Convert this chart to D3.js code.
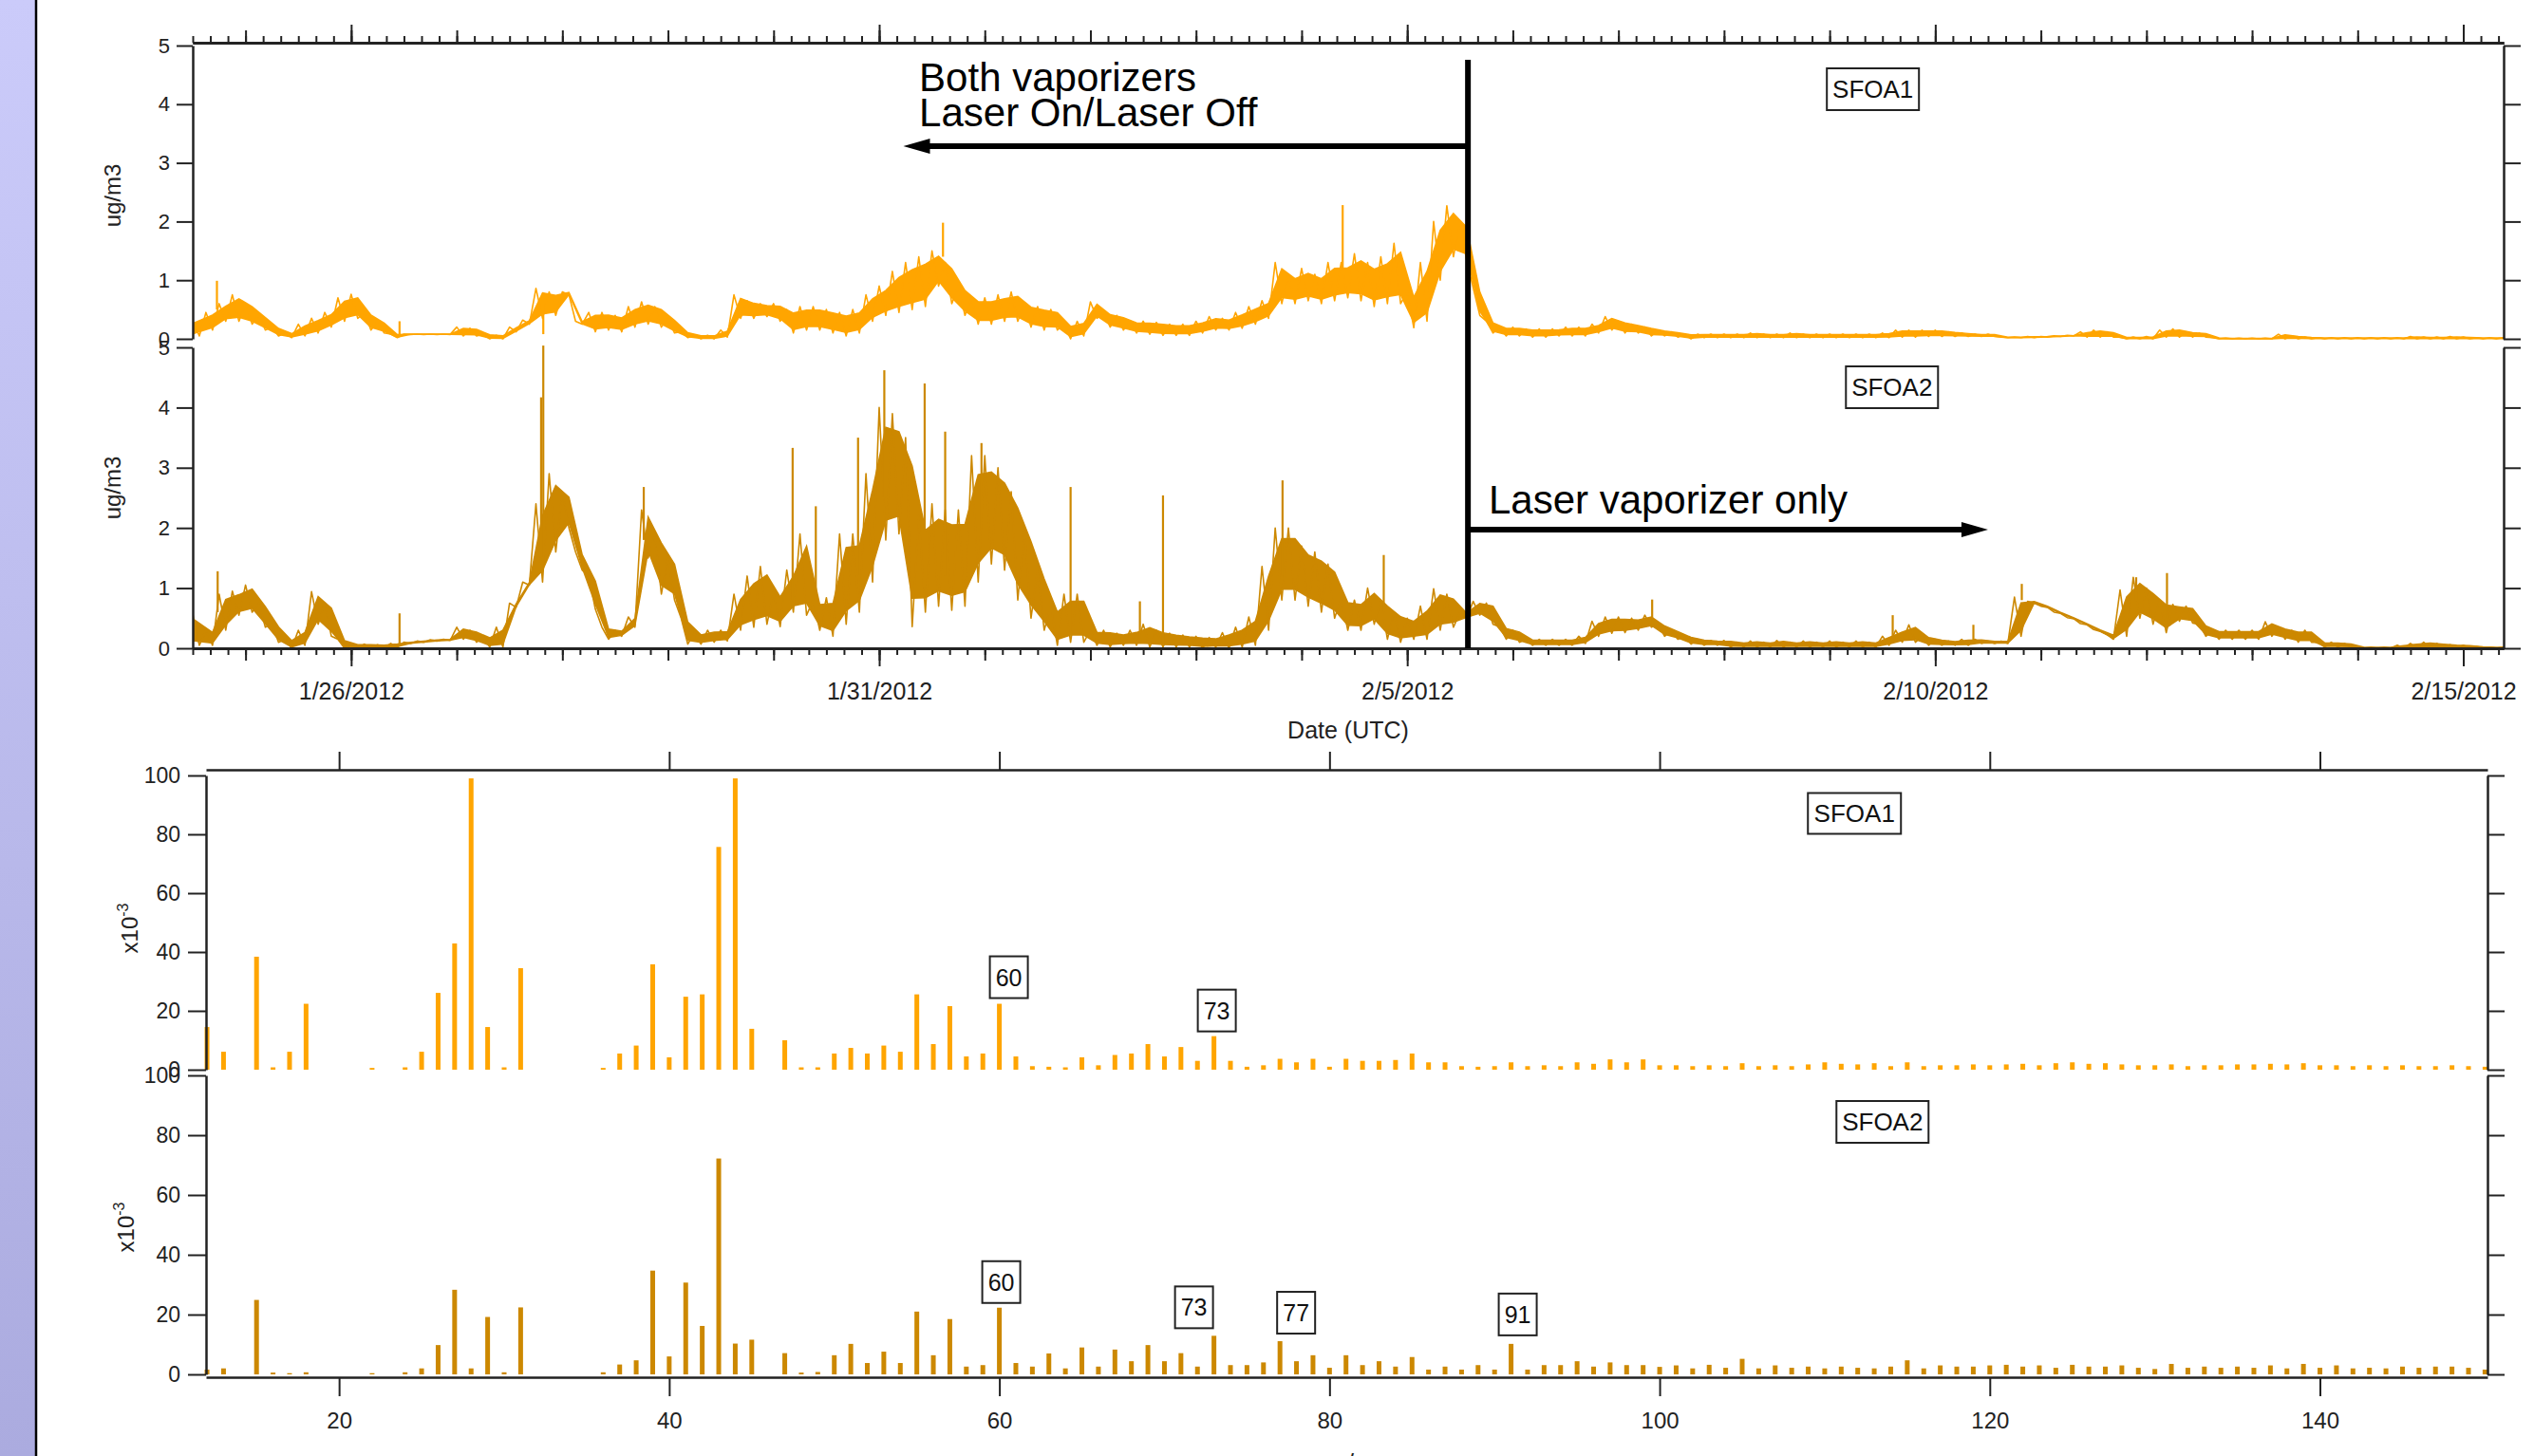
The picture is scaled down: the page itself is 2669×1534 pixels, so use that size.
<!DOCTYPE html>
<html>
<head>
<meta charset="utf-8">
<script src="https://cdn.jsdelivr.net/npm/d3@7"></script>
<style>
body { margin: 0; background: #fff; }
svg { display: block; font-family: "Liberation Sans", Arial, sans-serif; }
</style>
</head>
<body>
<div id="chart"></div>
<script>
// time series: min / max of the noise band in each 3-hour bin, from 1/24/2012 12:00
var binStart = new Date(2012, 0, 24, 12, 0);

var sfoa1Lo = [
    0.05,0.15,0.30,0.30,
    0.25,0.15,0.05,0.02,0.05,0.10,0.20,0.30,
    0.35,0.15,0.10,0.02,0.075,0.075,0.075,0.075,
    0.05,0.05,0.00,0.00,0.12,0.25,0.35,0.40,
    0.75,0.25,0.12,0.15,0.12,0.20,0.25,0.20,
    0.10,0.02,0.00,0.00,0.03,0.35,0.35,0.38,
    0.30,0.10,0.15,0.15,0.10,0.05,0.10,0.30,
    0.40,0.45,0.50,0.55,0.90,0.60,0.40,0.25,
    0.25,0.30,0.30,0.20,0.15,0.15,0.00,0.05,
    0.35,0.20,0.15,0.10,0.08,0.06,0.06,0.06,
    0.10,0.15,0.15,0.18,0.25,0.35,0.60,0.60,
    0.65,0.60,0.65,0.70,0.65,0.55,0.60,0.60,
    0.19,0.30,1.00,1.40,1.35,0.40,0.10,0.05,
    0.05,0.03,0.03,0.05,0.05,0.05,0.10,0.15,
    0.10,0.10,0.05,0.05,0.03,0.00,0.02,0.02,
    0.02,0.02,0.02,0.02,0.02,0.02,0.02,0.02,
    0.02,0.02,0.02,0.02,0.02,0.03,0.03,0.04,
    0.04,0.04,0.04,0.04,0.04,0.02,0.02,0.02,
    0.03,0.04,0.05,0.03,0.03,0.03,0.00,0.00,
    0.00,0.03,0.03,0.03,0.03,0.00,0.00,0.00,
    0.00,0.00,0.00,0.00,0.00,0.00,0.00,0.00,
    0.00,0.00,0.00,0.00,0.00,0.00,0.00,0.00,
    0.00,0.00,0.00,0.00
];
var sfoa1Hi = [
    0.30,0.45,0.60,0.75,
    0.60,0.40,0.20,0.10,0.25,0.35,0.45,0.70,
    0.76,0.45,0.30,0.08,0.08,0.08,0.08,0.08,
    0.20,0.18,0.08,0.06,0.20,0.32,0.86,0.80,
    0.80,0.30,0.45,0.45,0.40,0.55,0.63,0.55,
    0.35,0.12,0.06,0.06,0.15,0.75,0.65,0.60,
    0.60,0.50,0.55,0.55,0.50,0.45,0.50,0.75,
    0.90,1.15,1.30,1.40,1.50,1.30,0.90,0.70,
    0.70,0.75,0.80,0.60,0.55,0.50,0.25,0.30,
    0.63,0.45,0.40,0.30,0.30,0.28,0.25,0.25,
    0.30,0.38,0.35,0.45,0.55,0.65,1.30,1.10,
    1.20,1.10,1.30,1.30,1.45,1.30,1.40,1.63,
    0.80,1.30,2.00,2.27,2.00,0.87,0.30,0.20,
    0.20,0.17,0.17,0.17,0.20,0.20,0.25,0.38,
    0.30,0.25,0.20,0.15,0.12,0.08,0.08,0.08,
    0.08,0.08,0.10,0.08,0.08,0.10,0.08,0.08,
    0.08,0.08,0.08,0.08,0.10,0.15,0.15,0.15,
    0.15,0.12,0.10,0.08,0.08,0.03,0.03,0.04,
    0.04,0.05,0.06,0.12,0.15,0.12,0.03,0.03,
    0.04,0.15,0.17,0.12,0.10,0.02,0.01,0.01,
    0.01,0.01,0.08,0.05,0.03,0.02,0.02,0.02,
    0.02,0.02,0.02,0.02,0.04,0.03,0.03,0.04,
    0.03,0.02,0.02,0.02
];
// single spikes: [time, from, to]
var sfoa1Spikes = [
    [new Date(2012, 0, 24, 17, 30), 0.50, 0.99],
    [new Date(2012, 0, 26, 11, 0), 0.05, 0.30],
    [new Date(2012, 0, 27, 19, 40), 0.60, 0.08],
    [new Date(2012, 0, 31, 14, 30), 1.40, 1.98],
    [new Date(2012, 1, 4, 9, 20), 1.20, 2.28]
];

var sfoa2Lo = [
    0.05,0.05,0.30,0.55,
    0.60,0.35,0.10,0.00,0.05,0.40,0.20,0.00,
    0.00,0.00,0.00,0.02,0.08,0.10,0.12,0.13,
    0.15,0.10,0.02,0.02,0.68,1.05,1.10,1.60,
    2.00,1.30,0.65,0.15,0.20,0.35,1.50,0.90,
    0.80,0.07,0.07,0.10,0.12,0.30,0.35,0.40,
    0.36,0.60,0.55,0.30,0.20,0.40,0.60,1.10,
    1.80,1.90,0.36,0.60,0.70,0.63,0.70,1.10,
    1.40,1.30,0.80,0.50,0.30,0.05,0.10,0.10,
    0.05,0.02,0.05,0.05,0.02,0.02,0.02,0.02,
    0.00,0.02,0.00,0.02,0.05,0.30,0.80,0.80,
    0.70,0.60,0.50,0.30,0.30,0.40,0.15,0.10,
    0.15,0.15,0.30,0.35,0.50,0.55,0.40,0.15,
    0.10,0.05,0.05,0.05,0.05,0.08,0.20,0.25,
    0.26,0.30,0.35,0.20,0.15,0.07,0.05,0.05,
    0.02,0.02,0.02,0.02,0.02,0.02,0.02,0.02,
    0.02,0.02,0.02,0.02,0.05,0.10,0.10,0.05,
    0.05,0.05,0.05,0.08,0.08,0.08,0.20,0.75,
    0.68,0.58,0.49,0.39,0.28,0.15,0.20,0.50,
    0.40,0.26,0.45,0.42,0.20,0.15,0.15,0.15,
    0.15,0.20,0.15,0.10,0.10,0.02,0.02,0.02,
    0.00,0.00,0.00,0.00,0.00,0.00,0.00,0.00,
    0.00,0.00,0.00,0.00
];
var sfoa2Hi = [
    0.57,0.30,0.90,0.95,
    1.05,0.75,0.40,0.15,0.30,0.94,0.75,0.15,
    0.07,0.07,0.06,0.08,0.10,0.12,0.14,0.15,
    0.35,0.30,0.20,0.35,0.75,1.10,2.40,2.90,
    2.60,1.60,1.20,0.35,0.30,0.52,2.30,1.90,
    1.50,0.50,0.25,0.30,0.30,0.90,1.20,1.36,
    0.94,1.30,1.90,0.80,0.84,1.90,1.90,2.90,
    4.00,3.90,3.50,2.20,2.40,2.30,2.30,3.20,
    3.20,3.00,2.60,2.00,1.30,0.70,0.90,0.90,
    0.30,0.30,0.25,0.30,0.40,0.30,0.25,0.22,
    0.20,0.18,0.26,0.35,0.52,1.36,2.00,2.00,
    1.70,1.60,1.40,0.84,0.80,1.00,0.80,0.60,
    0.50,0.70,0.99,0.90,0.60,0.78,0.75,0.36,
    0.30,0.15,0.15,0.15,0.15,0.20,0.45,0.52,
    0.52,0.50,0.55,0.40,0.30,0.20,0.15,0.13,
    0.13,0.10,0.12,0.10,0.13,0.10,0.12,0.10,
    0.12,0.10,0.12,0.10,0.20,0.30,0.39,0.20,
    0.15,0.12,0.15,0.15,0.12,0.12,0.85,0.78,
    0.70,0.60,0.51,0.41,0.31,0.23,0.97,1.18,
    1.00,0.80,0.73,0.70,0.40,0.30,0.30,0.30,
    0.30,0.44,0.35,0.30,0.30,0.10,0.10,0.08,
    0.02,0.02,0.02,0.05,0.08,0.10,0.08,0.06,
    0.05,0.03,0.02,0.02
];
var sfoa2Spikes = [
    [new Date(2012, 0, 24, 17, 40), 0.60, 1.28],
    [new Date(2012, 0, 26, 11, 0), 0.05, 0.58],
    [new Date(2012, 0, 27, 19, 10), 1.50, 4.17],
    [new Date(2012, 0, 27, 19, 40), 1.50, 5.03],
    [new Date(2012, 0, 28, 18, 30), 1.80, 2.68],
    [new Date(2012, 0, 30, 4, 20), 0.80, 3.33],
    [new Date(2012, 0, 30, 9, 36), 0.60, 2.36],
    [new Date(2012, 0, 30, 19, 12), 1.20, 3.50],
    [new Date(2012, 0, 31, 1, 10), 2.50, 4.62],
    [new Date(2012, 0, 31, 10, 20), 1.00, 4.40],
    [new Date(2012, 0, 31, 15, 0), 1.20, 3.60],
    [new Date(2012, 0, 31, 23, 15), 2.00, 3.41],
    [new Date(2012, 1, 1, 19, 30), 0.30, 2.68],
    [new Date(2012, 1, 2, 11, 15), 0.10, 0.78],
    [new Date(2012, 1, 2, 16, 30), 0.10, 2.54],
    [new Date(2012, 1, 3, 19, 40), 1.20, 2.79],
    [new Date(2012, 1, 4, 18, 40), 0.60, 1.55],
    [new Date(2012, 1, 7, 7, 40), 0.40, 0.81],
    [new Date(2012, 1, 9, 14, 20), 0.10, 0.55],
    [new Date(2012, 1, 10, 8, 40), 0.10, 0.39],
    [new Date(2012, 1, 10, 19, 40), 0.80, 1.07],
    [new Date(2012, 1, 11, 21, 40), 0.80, 1.18],
    [new Date(2012, 1, 12, 4, 40), 0.50, 1.25]
];

// mass spectra, m/z 12..150 (x10^-3)
var mzStart = 12;
var spec1 = [
    14.5, 6.1, 0, 38.4, 0.8, 6.1, 22.4, 0, 0, 0,
    0.6, 0, 0.8, 6.1, 26.1, 42.9, 99.0, 14.5, 0.8, 34.5,
    0, 0, 0, 0, 0.6, 5.5, 8.2, 35.8, 4.2, 24.8,
    25.6, 75.7, 99.0, 13.9, 0, 10.0, 0.8, 0.8, 5.5, 7.4,
    5.5, 8.2, 6.1, 25.6, 8.7, 21.6, 4.5, 5.5, 22.4, 4.5,
    1.2, 1.0, 0.8, 4.2, 1.5, 5.0, 5.5, 8.7, 4.5, 7.7,
    3.0, 11.4, 3.0, 1.0, 1.5, 3.7, 2.5, 3.7, 1.0, 3.7,
    3.0, 3.0, 3.3, 5.5, 2.5, 2.5, 1.2, 1.0, 1.2, 2.5,
    1.2, 1.5, 1.2, 2.5, 2.0, 3.5, 2.5, 3.5, 1.5, 1.5,
    1.2, 1.5, 1.2, 2.2, 1.2, 1.5, 1.2, 1.8, 2.5, 2.0,
    1.8, 2.2, 1.2, 2.5, 1.2, 1.5, 1.5, 1.8, 1.5, 1.8,
    2.0, 1.5, 2.2, 2.5, 2.0, 2.2, 1.8, 1.5, 1.5, 1.8,
    1.2, 1.5, 1.5, 1.8, 1.8, 2.0, 1.8, 2.2, 1.5, 1.5,
    1.2, 1.5, 1.2, 1.5, 1.2, 1.2, 1.5, 1.2, 1.0
];
var spec2 = [
    1.6, 2.0, 0, 24.9, 0.6, 0.4, 0.7, 0, 0, 0,
    0.4, 0, 0.7, 2.0, 9.8, 28.3, 2.0, 19.2, 0.7, 22.4,
    0, 0, 0, 0, 0.7, 3.3, 4.7, 34.7, 6.0, 30.7,
    16.2, 72.2, 10.3, 11.6, 0, 7.1, 0.6, 0.8, 6.4, 10.2,
    3.8, 7.6, 3.8, 21.0, 6.4, 18.5, 2.6, 3.1, 22.3, 3.8,
    2.6, 7.0, 2.0, 9.0, 2.6, 8.3, 4.4, 9.8, 4.4, 7.1,
    2.6, 12.9, 3.1, 3.1, 4.0, 11.1, 4.4, 6.4, 2.2, 6.4,
    3.1, 4.4, 2.6, 5.8, 1.6, 2.6, 1.6, 3.1, 1.6, 10.2,
    1.6, 3.1, 3.1, 4.4, 2.6, 4.0, 3.1, 3.1, 2.5, 3.0,
    2.0, 3.2, 2.2, 5.2, 2.0, 3.0, 2.2, 2.6, 2.0, 2.6,
    2.2, 2.0, 2.6, 4.7, 2.0, 3.0, 2.6, 2.6, 3.0, 3.2,
    2.6, 3.0, 2.2, 3.2, 2.6, 2.6, 3.0, 2.2, 1.8, 3.5,
    2.2, 2.6, 2.2, 2.6, 2.2, 3.0, 2.0, 3.5, 2.2, 3.0,
    2.0, 2.2, 2.0, 2.6, 2.2, 2.6, 2.6, 2.2, 1.6
];

var concTicks = [0, 1, 2, 3, 4, 5];
var dateLabels = [new Date(2012, 0, 26), new Date(2012, 0, 31), new Date(2012, 1, 5),
                  new Date(2012, 1, 10), new Date(2012, 1, 15)];
var specTicks = [0, 20, 40, 60, 80, 100];
var mzTicks = [20, 40, 60, 80, 100, 120, 140];

var peaks1 = [{mz: 60, dx: 10, gap: 6}, {mz: 73, dx: 3, gap: 5}];
var peaks2 = [{mz: 60, dx: 2, gap: 5}, {mz: 73, dx: -21, gap: 8},
              {mz: 77, dx: 17, gap: 8}, {mz: 91, dx: 7, gap: 9}];

var switchTime = new Date(2012, 1, 5, 13, 48);

function init() {
    var W = 2669, H = 1534;
    var col1 = "#FFA500", col2 = "#CC8800";

    var svg = d3.select("#chart").append("svg")
                .attr("width", W)
                .attr("height", H);

    var defs = svg.append("defs");
    var grad = defs.append("linearGradient").attr("id", "strip")
                .attr("x1", 0).attr("y1", 0).attr("x2", 0).attr("y2", 1);
    grad.append("stop").attr("offset", "0%").attr("stop-color", "#CBCBFA");
    grad.append("stop").attr("offset", "100%").attr("stop-color", "#ABABDF");
    svg.append("rect").attr("x", 0).attr("y", 0).attr("width", 37).attr("height", H)
        .attr("fill", "url(#strip)");
    svg.append("line").attr("x1", 38).attr("x2", 38).attr("y1", 0).attr("y2", H)
        .attr("stroke", "#000").attr("stroke-width", 2.5);

    // ---------- time series ----------
    var xTime = d3.scaleTime()
                .domain([binStart, new Date(2012, 1, 15, 9, 10)])
                .range([203, 2637]);
    var y1 = d3.scaleLinear().domain([0, 5]).range([357, 48]);
    var y2 = d3.scaleLinear().domain([0, 5]).range([683, 366]);

    defs.append("clipPath").attr("id", "clipT")
        .append("rect").attr("x", 203).attr("y", 0).attr("width", 2434).attr("height", 700);

    function binTime(i, minutes) {
        return d3.timeMinute.offset(d3.timeHour.offset(binStart, i * 3), minutes);
    }

    function trace(lo, hi, spikes, yScale, color) {
        var g = svg.append("g").attr("clip-path", "url(#clipT)");

        // solid core of the noise band
        var core = d3.area()
                .x(function(d, i) { return xTime(i === 0 ? binStart : binTime(i, 90)); })
                .y0(function(d, i) { return yScale(lo[i] + 0.15 * (hi[i] - lo[i])); })
                .y1(function(d, i) { return yScale(hi[i] - 0.15 * (hi[i] - lo[i])); });
        g.append("path")
            .datum(lo)
            .attr("d", core)
            .attr("fill", color)
            .attr("stroke", color)
            .attr("stroke-width", 1.5);

        // zigzag out to the min / max of each bin
        var pts = [];
        lo.forEach(function(v, i) {
            pts.push([binTime(i, 0), hi[i]]);
            pts.push([binTime(i, 90), lo[i]]);
        });
        var line = d3.line()
                .x(function(d) { return xTime(d[0]); })
                .y(function(d) { return yScale(d[1]); });
        g.append("path")
            .datum(pts)
            .attr("d", line)
            .attr("fill", "none")
            .attr("stroke", color)
            .attr("stroke-width", 1.6)
            .attr("stroke-linejoin", "round");

        g.selectAll(".spike")
            .data(spikes)
            .enter()
            .append("line")
            .attr("x1", function(d) { return xTime(d[0]); })
            .attr("x2", function(d) { return xTime(d[0]); })
            .attr("y1", function(d) { return yScale(d[1]); })
            .attr("y2", function(d) { return yScale(d[2]); })
            .attr("stroke", color)
            .attr("stroke-width", 2.2);
    }

    trace(sfoa1Lo, sfoa1Hi, sfoa1Spikes, y1, col1);
    trace(sfoa2Lo, sfoa2Hi, sfoa2Spikes, y2, col2);

    function fixAxis(g, size) {
        g.attr("font-family", null).attr("font-size", size);
        g.select(".domain").attr("stroke", "#222").attr("stroke-width", 2.5);
        g.selectAll(".tick line").attr("stroke", "#222").attr("stroke-width", 2);
        g.selectAll(".tick text").attr("fill", "#222");
    }

    function timeAxis(axisFn, yPos, labels) {
        var levels = [
            axisFn(xTime).ticks(d3.timeHour.every(4)).tickSize(7).tickFormat(""),
            axisFn(xTime).ticks(d3.timeDay.every(1)).tickSize(13).tickFormat(""),
            axisFn(xTime).tickValues(dateLabels).tickSize(19)
                .tickFormat(labels ? d3.timeFormat("%-m/%-d/%Y") : "").tickPadding(17)
        ];
        levels.forEach(function(a) {
            var g = svg.append("g")
                .attr("transform", "translate(0," + yPos + ")")
                .call(a.tickSizeOuter(0));
            fixAxis(g, 25);
        });
    }
    timeAxis(d3.axisTop, 45, false);
    timeAxis(d3.axisBottom, 683, true);

    [y1, y2].forEach(function(ys) {
        var gl = svg.append("g").attr("transform", "translate(203,0)")
            .call(d3.axisLeft(ys).tickValues(concTicks).tickFormat(d3.format("d"))
                .tickSize(17).tickSizeOuter(0).tickPadding(7));
        fixAxis(gl, 22);
        var gr = svg.append("g").attr("transform", "translate(2637,0)")
            .call(d3.axisRight(ys).tickValues(concTicks).tickSize(18).tickSizeOuter(0).tickFormat(""));
        fixAxis(gr, 22);
    });

    svg.append("text").attr("transform", "translate(127,206) rotate(-90)")
        .attr("text-anchor", "middle").attr("font-size", 24).attr("fill", "#222").text("ug/m3");
    svg.append("text").attr("transform", "translate(127,514) rotate(-90)")
        .attr("text-anchor", "middle").attr("font-size", 24).attr("fill", "#222").text("ug/m3");
    svg.append("text").attr("x", 1420).attr("y", 778)
        .attr("text-anchor", "middle").attr("font-size", 25).attr("fill", "#222").text("Date (UTC)");

    function labelBox(cx, cy, w, h, txt, size) {
        svg.append("rect")
            .attr("x", cx - w / 2).attr("y", cy - h / 2)
            .attr("width", w).attr("height", h)
            .attr("fill", "#fff").attr("stroke", "#222").attr("stroke-width", 2);
        svg.append("text")
            .attr("x", cx).attr("y", cy + size * 0.36)
            .attr("text-anchor", "middle")
            .attr("font-size", size).attr("fill", "#111")
            .text(txt);
    }

    labelBox(xTime(new Date(2012, 1, 9, 9, 50)), 94, 97, 44, "SFOA1", 26);
    labelBox(xTime(new Date(2012, 1, 9, 14, 10)), 408, 97, 44, "SFOA2", 26);

    // vaporizer switch marker and arrows
    var xs = xTime(switchTime);
    svg.append("line").attr("x1", xs).attr("x2", xs).attr("y1", 63).attr("y2", 683)
        .attr("stroke", "#000").attr("stroke-width", 6);

    var xl = xTime(new Date(2012, 0, 31, 5, 30));
    svg.append("line").attr("x1", xs).attr("x2", xl + 24).attr("y1", 154).attr("y2", 154)
        .attr("stroke", "#000").attr("stroke-width", 6);
    svg.append("path").attr("d", "M" + xl + ",154 L" + (xl + 28) + ",146 L" + (xl + 28) + ",162 Z")
        .attr("fill", "#000");

    var xr = xTime(new Date(2012, 1, 10, 12, 0));
    svg.append("line").attr("x1", xs).attr("x2", xr - 24).attr("y1", 558).attr("y2", 558)
        .attr("stroke", "#000").attr("stroke-width", 6);
    svg.append("path").attr("d", "M" + xr + ",558 L" + (xr - 28) + ",550 L" + (xr - 28) + ",566 Z")
        .attr("fill", "#000");

    var xb = xTime(new Date(2012, 0, 31, 9, 5));
    svg.append("text").attr("x", xb).attr("y", 96).attr("font-size", 42).attr("fill", "#000")
        .text("Both vaporizers");
    svg.append("text").attr("x", xb).attr("y", 133).attr("font-size", 42).attr("fill", "#000")
        .text("Laser On/Laser Off");
    svg.append("text").attr("x", xTime(new Date(2012, 1, 5, 18, 30))).attr("y", 541)
        .attr("font-size", 42).attr("fill", "#000").text("Laser vaporizer only");

    // ---------- mass spectra ----------
    var xm = d3.scaleLinear().domain([11.94, 150.15]).range([217, 2620]);
    var ym1 = d3.scaleLinear().domain([0, 100]).range([1127, 817]);
    var ym2 = d3.scaleLinear().domain([0, 100]).range([1448, 1133]);

    function bars(data, ys, color) {
        svg.append("g").selectAll("rect")
            .data(data)
            .enter()
            .append("rect")
            .attr("x", function(d, i) { return xm(mzStart + i) - 2.5; })
            .attr("y", function(d) { return ys(d); })
            .attr("width", 5)
            .attr("height", function(d) { return ys(0) - ys(d); })
            .attr("fill", color);
    }
    bars(spec1, ym1, col1);
    bars(spec2, ym2, col2);

    var gt = svg.append("g").attr("transform", "translate(0,811)")
        .call(d3.axisTop(xm).tickValues(mzTicks).tickSize(19).tickSizeOuter(0).tickFormat(""));
    fixAxis(gt, 24);
    var gb = svg.append("g").attr("transform", "translate(0,1451)")
        .call(d3.axisBottom(xm).tickValues(mzTicks).tickSize(20).tickSizeOuter(0).tickPadding(17));
    fixAxis(gb, 24);

    [ym1, ym2].forEach(function(ys) {
        var gl = svg.append("g").attr("transform", "translate(217,0)")
            .call(d3.axisLeft(ys).tickValues(specTicks).tickSize(19).tickSizeOuter(0).tickPadding(8));
        fixAxis(gl, 23);
        var gr = svg.append("g").attr("transform", "translate(2620,0)")
            .call(d3.axisRight(ys).tickValues(specTicks).tickSize(18).tickSizeOuter(0).tickFormat(""));
        fixAxis(gr, 23);
    });

    [[145, 978], [141, 1293]].forEach(function(p) {
        var t = svg.append("text")
            .attr("transform", "translate(" + p[0] + "," + p[1] + ") rotate(-90)")
            .attr("text-anchor", "middle").attr("font-size", 24).attr("fill", "#222");
        t.append("tspan").text("x10");
        t.append("tspan").attr("dy", -10).attr("font-size", 16).text("-3");
    });

    svg.append("text").attr("x", 1418).attr("y", 1550)
        .attr("text-anchor", "middle").attr("font-size", 26).attr("fill", "#222").text("m/z");

    labelBox(xm(111.8), 857, 98, 43, "SFOA1", 26);
    labelBox(xm(113.5), 1182, 97, 44, "SFOA2", 26);

    peaks1.forEach(function(p) {
        var v = spec1[p.mz - mzStart];
        labelBox(xm(p.mz) + p.dx, ym1(v) - p.gap - 22, 40, 44, String(p.mz), 25);
    });
    peaks2.forEach(function(p) {
        var v = spec2[p.mz - mzStart];
        labelBox(xm(p.mz) + p.dx, ym2(v) - p.gap - 22, 40, 44, String(p.mz), 25);
    });
}

window.onload = init;
</script>
</body>
</html>
